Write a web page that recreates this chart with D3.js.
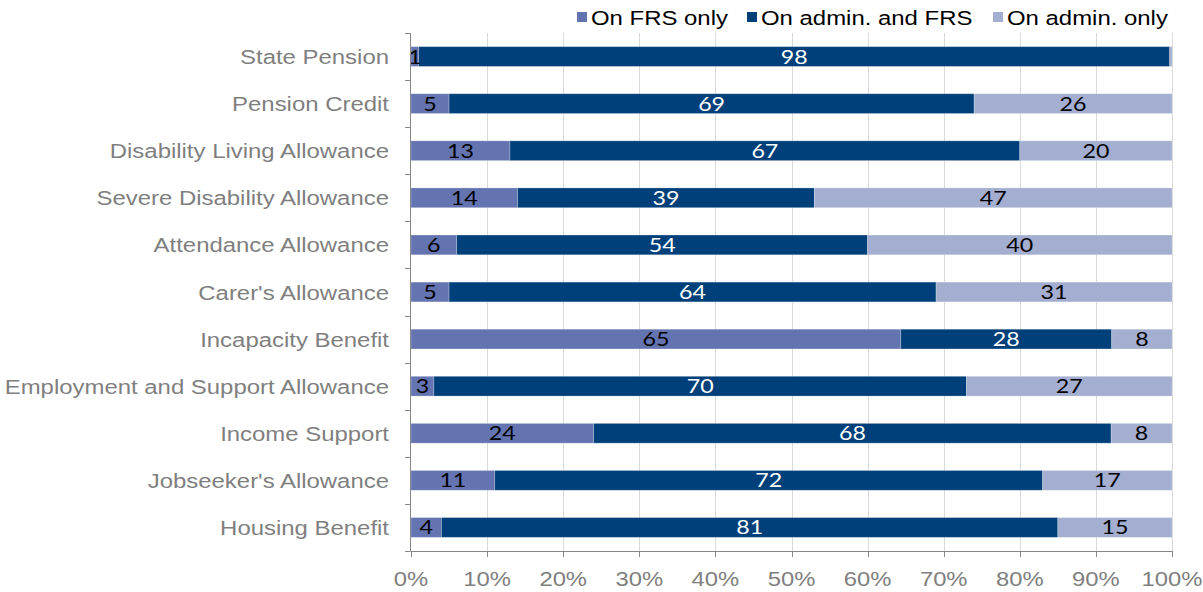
<!DOCTYPE html>
<html>
<head>
<meta charset="utf-8">
<script src="https://cdn.jsdelivr.net/npm/d3@7"></script>
<style>
  body { margin: 0; background: #fff; }
  svg { display: block; }
</style>
</head>
<body>
<svg id="graphique"></svg>
<script>

// Données (en %)
const categories = ["State Pension", "Pension Credit", "Disability Living Allowance",
  "Severe Disability Allowance", "Attendance Allowance", "Carer's Allowance",
  "Incapacity Benefit", "Employment and Support Allowance", "Income Support",
  "Jobseeker's Allowance", "Housing Benefit"];
const frsOnly     = [1, 5, 13, 14, 6, 5, 65, 3, 24, 11, 4];
const adminAndFrs = [98, 69, 67, 39, 54, 64, 28, 70, 68, 72, 81];
const adminOnly   = [0.3, 26, 20, 47, 40, 31, 8, 27, 8, 17, 15];

const seriesNames = ["On FRS only", "On admin. and FRS", "On admin. only"];
const tickValues = [0, 0.1, 0.2, 0.3, 0.4, 0.5, 0.6, 0.7, 0.8, 0.9, 1];

const couleurs = ["#6474b1", "#00407a", "#a3aed0"];
const couleurTexte = ["#000", "#fff", "#000"];

let w = 1203, h = 592;
// étirement horizontal du texte (comme l'original)
const sx = 1.19;

let svg = d3.select("#graphique")
  .attr("width", w)
  .attr("height", h);

// Table pour d3.stack
let table = categories.map((c, i) => ({
  cat: c,
  "On FRS only": frsOnly[i],
  "On admin. and FRS": adminAndFrs[i],
  "On admin. only": adminOnly[i]
}));

let stack = d3.stack()
  .keys(seriesNames)
  .offset(d3.stackOffsetExpand);
let series = stack(table);

let x = d3.scaleLinear().domain([0, 1]).range([411, 1172]);
let y = d3.scaleBand().domain(categories).range([33, 551])
  .paddingInner(0.58).paddingOuter(0.29);

//Grille verticale
svg.append("g")
  .selectAll("line")
  .data(tickValues.slice(1))
  .enter()
  .append("line")
  .attr("x1", d => Math.round(x(d)) + 0.5)
  .attr("x2", d => Math.round(x(d)) + 0.5)
  .attr("y1", 33)
  .attr("y2", 551)
  .style("stroke", "#d9d9d9")
  .style("stroke-width", 1);

//Barres
let groupes = svg.append("g")
  .selectAll("g")
  .data(series)
  .enter()
  .append("g")
  .style("fill", (d, i) => couleurs[i]);

groupes.selectAll("rect")
  .data(d => d)
  .enter()
  .append("rect")
  .attr("x", d => x(d[0]))
  .attr("y", d => y(d.data.cat))
  .attr("width", d => x(d[1]) - x(d[0]))
  .attr("height", y.bandwidth())
  .style("stroke", "rgba(255,255,255,0.3)")
  .style("stroke-width", 0.8);

//Etiquettes des valeurs
series.forEach((s, k) => {
  svg.append("g")
    .selectAll("text")
    .data(s.filter(d => d.data[s.key] >= 1))
    .enter()
    .append("text")
    .attr("transform", d => `translate(${(x(d[0]) + x(d[1])) / 2},${y(d.data.cat) + y.bandwidth() / 2 + 7}) scale(${sx},1)`)
    .attr("text-anchor", "middle")
    .style("font-family", "Lato, 'Open Sans', sans-serif")
    .style("font-size", "19.5px")
    .style("fill", couleurTexte[k])
    .text(d => Math.round(d.data[s.key]));
});

//Axes
svg.append("line")
  .attr("x1", 410.5).attr("x2", 410.5)
  .attr("y1", 33).attr("y2", 551)
  .style("stroke", "#868686");

svg.append("line")
  .attr("x1", 410.5).attr("x2", 1172.5)
  .attr("y1", 551.5).attr("y2", 551.5)
  .style("stroke", "#868686");

// graduations gauche (limites des catégories)
let limites = d3.range(categories.length + 1).map(i => 33 + i * y.step());
svg.append("g")
  .selectAll("line")
  .data(limites)
  .enter()
  .append("line")
  .attr("x1", 405).attr("x2", 410.5)
  .attr("y1", d => Math.round(d) + 0.5)
  .attr("y2", d => Math.round(d) + 0.5)
  .style("stroke", "#868686");

// graduations bas
svg.append("g")
  .selectAll("line")
  .data(tickValues)
  .enter()
  .append("line")
  .attr("x1", d => Math.round(x(d)) + 0.5)
  .attr("x2", d => Math.round(x(d)) + 0.5)
  .attr("y1", 551)
  .attr("y2", 557)
  .style("stroke", "#868686");

svg.append("g")
  .selectAll("text")
  .data(tickValues)
  .enter()
  .append("text")
  .attr("transform", d => `translate(${x(d)},586) scale(${sx},1)`)
  .attr("text-anchor", "middle")
  .style("font-family", "'Liberation Sans', Arial, sans-serif")
  .style("font-size", "20px")
  .style("fill", "#7f7f7f")
  .text(d3.format(".0%"));

// libellés des catégories
svg.append("g")
  .selectAll("text")
  .data(categories)
  .enter()
  .append("text")
  .attr("transform", d => `translate(389,${y(d) + y.bandwidth() / 2 + 7.5}) scale(1.14,1)`)
  .attr("text-anchor", "end")
  .style("font-family", "'Liberation Sans', Arial, sans-serif")
  .style("font-size", "21px")
  .style("fill", "#7f7f7f")
  .text(d => d);

//Légende
let legendeX = [577, 747, 993];
let legende = svg.append("g")
  .selectAll("g")
  .data(seriesNames)
  .enter()
  .append("g")
  .attr("transform", (d, i) => `translate(${legendeX[i]},0)`);

legende.append("rect")
  .attr("x", 0)
  .attr("y", 12)
  .attr("width", 10)
  .attr("height", 10)
  .style("fill", (d, i) => couleurs[i]);

legende.append("text")
  .attr("transform", `translate(14,25) scale(1.14,1)`)
  .style("font-family", "'Liberation Sans', Arial, sans-serif")
  .style("font-size", "21px")
  .style("fill", "#000")
  .text(d => d);

</script>
</body>
</html>
